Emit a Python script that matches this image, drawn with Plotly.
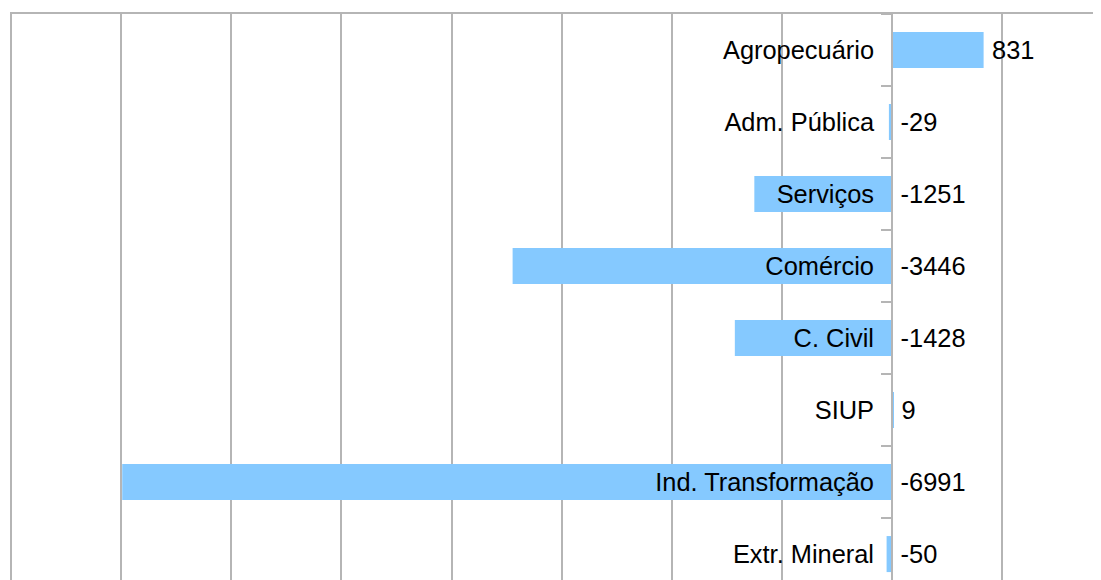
import plotly.graph_objects as go

categories = ["Agropecuário", "Adm. Pública", "Serviços", "Comércio",
              "C. Civil", "SIUP", "Ind. Transformação", "Extr. Mineral"]
values = [831, -29, -1251, -3446, -1428, 9, -6991, -50]

label_x = [max(v, 0) for v in values]
label_text = [str(v) for v in values]

FONT = "Liberation Sans, Arial, sans-serif"
GRID = "#b5b5b5"
FS = 25.4
Y_RANGE = [7.36, -0.5]
TEXT_SHIFT = 0.042  # value labels sit ~3px lower than marker centre

fig = go.Figure()
fig.add_trace(go.Bar(
    x=values, y=categories, orientation="h", width=0.5,
    marker=dict(color="#85c9ff", line=dict(width=0)),
    hoverinfo="skip", showlegend=False,
))
fig.add_trace(go.Scatter(
    x=label_x, y=categories, mode="markers+text", text=label_text,
    textposition="middle right", yaxis="y2",
    marker=dict(size=12, color="rgba(0,0,0,0)"),
    textfont=dict(family=FONT, size=FS, color="#000000"),
    hoverinfo="skip", showlegend=False, cliponaxis=False,
))

# page body has an 8px margin, so figure is 8px smaller and margins compensate
fig.update_layout(
    width=1093, height=572,
    margin=dict(l=2, r=0, t=6, b=0),
    paper_bgcolor="white", plot_bgcolor="white",
    xaxis=dict(
        range=[-8010, 1897], dtick=1000, tick0=0,
        side="top", showticklabels=False, ticks="",
        showgrid=True, gridcolor=GRID, gridwidth=2,
        zeroline=False,
        showline=True, linecolor=GRID, linewidth=2,
    ),
    yaxis=dict(
        type="category", categoryorder="array", categoryarray=categories,
        range=Y_RANGE,
        anchor="free", position=8010 / 9907,
        showgrid=False, zeroline=False,
        showline=True, linecolor=GRID, linewidth=2,
        ticks="outside", tickson="boundaries", ticklen=10,
        tickcolor=GRID, tickwidth=2,
        ticklabelstandoff=12,
        tickfont=dict(family=FONT, size=FS, color="#000000"),
    ),
    yaxis2=dict(
        type="category", categoryorder="array", categoryarray=categories,
        range=[Y_RANGE[0] - TEXT_SHIFT, Y_RANGE[1] - TEXT_SHIFT],
        overlaying="y", anchor="x", visible=False,
    ),
)

fig.write_html("out.html")
